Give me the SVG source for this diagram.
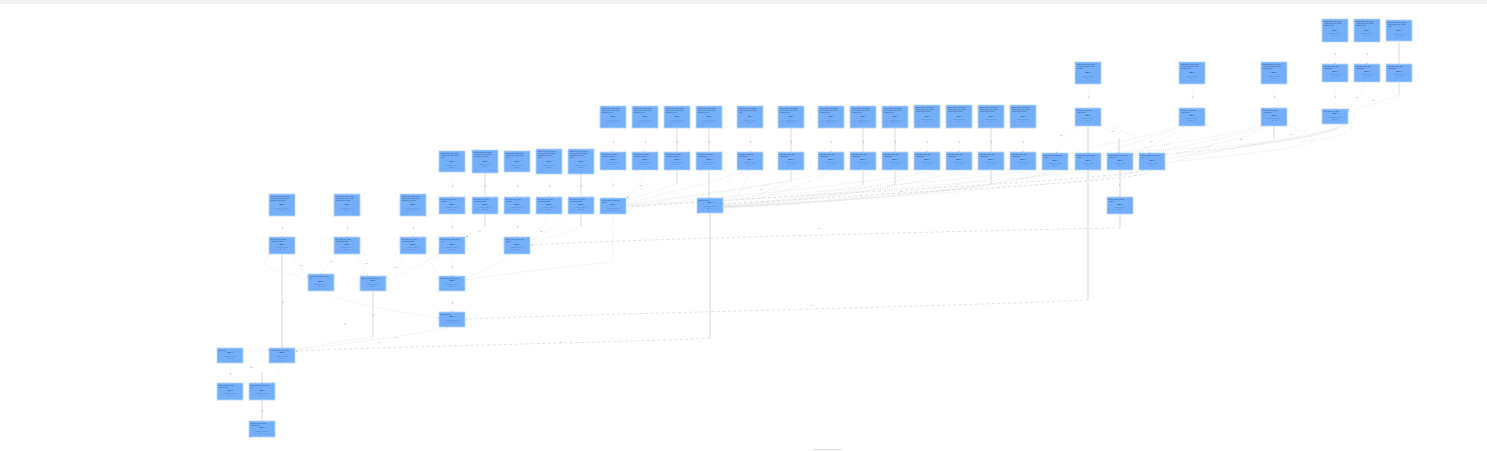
<svg xmlns="http://www.w3.org/2000/svg" width="1487" height="451" viewBox="0 0 1487 451">
<defs>
<marker id="ah" viewBox="0 0 4 4" refX="4" refY="2" markerWidth="1.5" markerHeight="1.5" markerUnits="userSpaceOnUse" orient="auto"><path d="M0,0L4,2L0,4z" fill="#777"/></marker>
<style>
.nb{fill:#74aef8;stroke:#b9d6fc;stroke-width:0.8}
.t{font-family:"Liberation Sans",Arial,sans-serif;font-size:1.5px;fill:#2d3f63}
.b{font-weight:bold;text-anchor:middle}
.l{font-family:"Liberation Sans",Arial,sans-serif;font-size:1.2px;fill:#3f6fb8;text-anchor:middle}
.lbl{font-family:"Liberation Sans",Arial,sans-serif;font-size:1.7px;fill:#9a9a9a}
.es{stroke:#d6d6d6;stroke-width:0.9;fill:none}
.ed{stroke:#cbcbcb;stroke-width:0.5;stroke-dasharray:0.8 1.5;fill:none}
.eL{stroke:#dcdcdc;stroke-width:0.8;stroke-dasharray:3 2.5;fill:none}
.ei{stroke:#f2f2f2;stroke-width:0.3;fill:none}
</style>
</defs>
<rect width="1487" height="451" fill="#ffffff"/>
<rect width="1487" height="4" fill="#f1f1f1"/>
<rect x="813" y="449" width="29" height="1" fill="#dddddd"/>

<g id="connectors">
<path class="ei" d="M1335,42V64" marker-end="url(#ah)"/>
<path class="ei" d="M1367,42V64" marker-end="url(#ah)"/>
<path class="es" d="M1399,41V64" marker-end="url(#ah)"/>
<path class="es" d="M1399,82V95"/>
<path class="ed" d="M1399,95C1385,100 1360,108 1348,112" marker-end="url(#ah)"/>
<path class="ed" d="M1365,82C1362,95 1352,106 1348,110" marker-end="url(#ah)"/>
<path class="ei" d="M1335,82V109" marker-end="url(#ah)"/>
<path class="ei" d="M1088,84V108" marker-end="url(#ah)"/>
<path class="ei" d="M1192,84V108" marker-end="url(#ah)"/>
<path class="ei" d="M1274,84V108" marker-end="url(#ah)"/>
<path class="es" d="M1088,126V153" marker-end="url(#ah)"/>
<path class="ed" d="M1078,126C1070,135 1060,145 1056,153" marker-end="url(#ah)"/>
<path class="ed" d="M1098,125C1110,131 1119,134 1119,140"/>
<path class="es" d="M1119,139V153" marker-end="url(#ah)"/>
<path class="ed" d="M1101,122C1120,130 1140,136 1150,153" marker-end="url(#ah)"/>
<path class="ed" d="M1180,125C1150,140 1080,145 1068,156"/>
<path class="ed" d="M1182,126C1150,140 1110,148 1101,156"/>
<path class="ed" d="M1186,126C1165,140 1140,150 1133,157"/>
<path class="ed" d="M1190,126C1180,140 1160,148 1152,153"/>
<path class="ed" d="M1204,124C1240,140 1200,155 1165,160"/>
<path class="ed" d="M1262,125C1220,140 1110,150 1101,158"/>
<path class="ed" d="M1265,126C1230,140 1150,150 1133,160"/>
<path class="ed" d="M1268,126C1250,140 1180,150 1165,158"/>
<path class="es" d="M1274,126V140"/>
<path class="ed" d="M1274,140C1250,148 1090,150 1068,160"/>
<path class="ed" d="M1286,124C1300,130 1310,135 1316,141C1300,150 1200,158 1165,163"/>
<path class="ed" d="M1343,124C1330,135 1200,150 1165,165"/>
<path class="ed" d="M1345,124C1340,132 1250,148 1133,162"/>
<path class="ed" d="M1347,122C1345,135 1240,150 1101,160"/>
<path class="ed" d="M1348,120C1352,137 1200,152 1068,162"/>
<path class="ed" d="M1348,118C1360,132 1340,138 1300,142"/>
<path class="ei" d="M613,128V152" marker-end="url(#ah)"/>
<path class="ei" d="M645,128V152" marker-end="url(#ah)"/>
<path class="es" d="M677,128V183"/>
<path class="es" d="M709,128V198" marker-end="url(#ah)"/>
<path class="ei" d="M750,128V152" marker-end="url(#ah)"/>
<path class="es" d="M791,128V181"/>
<path class="ei" d="M831,128V152" marker-end="url(#ah)"/>
<path class="es" d="M863,128V185"/>
<path class="es" d="M895,128V185"/>
<path class="ei" d="M927,128V152" marker-end="url(#ah)"/>
<path class="ei" d="M959,128V152" marker-end="url(#ah)"/>
<path class="es" d="M991,128V185"/>
<path class="ei" d="M1023,128V152" marker-end="url(#ah)"/>
<path class="ei" d="M613,170V198" marker-end="url(#ah)"/>
<path class="ed" d="M645,170C640,185 632,193 627,198" marker-end="url(#ah)"/>
<path class="ed" d="M677,183C660,190 640,196 627,200"/>
<path class="ed" d="M722,168C726,173 728,178 731,182"/>
<path class="ed" d="M750,170C745,190 735,200 723,204" marker-end="url(#ah)"/>
<path class="ed" d="M791,181C760,195 740,202 723,205"/>
<path class="ed" d="M831,170C800,190 750,202 723,205"/>
<path class="ed" d="M863,185C820,195 760,203 723,206"/>
<path class="ed" d="M895,185C850,195 770,203 723,206"/>
<path class="ed" d="M927,170C880,190 780,203 723,206"/>
<path class="ed" d="M959,170C900,190 790,203 723,207"/>
<path class="ed" d="M991,185C940,193 800,203 723,207"/>
<path class="ed" d="M1023,170C960,190 810,203 723,207"/>
<path class="ed" d="M1055,170C1000,190 820,204 723,207"/>
<path class="ed" d="M1062,170C1010,186 830,203 723,208"/>
<path class="ed" d="M1145,170C1100,184 850,200 723,208"/>
<path class="ed" d="M750,170C700,185 650,198 627,203"/>
<path class="ed" d="M791,181C730,190 660,200 627,204"/>
<path class="ed" d="M831,172C760,188 670,200 627,205"/>
<path class="ed" d="M927,172C820,190 680,201 627,205"/>
<path class="ed" d="M1023,172C880,188 700,201 627,206"/>
<path class="ed" d="M1101,170C950,186 720,202 627,206"/>
<path class="eL" d="M1152,170C1140,182 1000,186 723,204"/>
<path class="eL" d="M1165,165C1140,180 900,188 627,207"/>
<path class="es" d="M1120,170V197" marker-end="url(#ah)"/>
<path class="es" d="M1120,214V228"/>
<path class="eL" d="M1120,228C1000,230 600,240 531,245" marker-end="url(#ah)"/>
<path class="es" d="M1088,170V300"/>
<path class="eL" d="M1088,300C1000,305 560,315 466,319" marker-end="url(#ah)"/>
<path class="es" d="M710,213V338"/>
<path class="eL" d="M710,338C650,342 400,346 296,351" marker-end="url(#ah)"/>
<path class="ei" d="M452,172V197" marker-end="url(#ah)"/>
<path class="es" d="M485,173V226"/>
<path class="ed" d="M485,226C478,230 470,234 466,237" marker-end="url(#ah)"/>
<path class="ei" d="M517,172V197" marker-end="url(#ah)"/>
<path class="ei" d="M549,174V197" marker-end="url(#ah)"/>
<path class="es" d="M581,174V226"/>
<path class="ed" d="M581,226C560,235 540,240 531,243"/>
<path class="ei" d="M452,214V237" marker-end="url(#ah)"/>
<path class="ei" d="M517,214V237" marker-end="url(#ah)"/>
<path class="ed" d="M547,214C545,225 535,233 530,238"/>
<path class="ed" d="M565,214C560,225 540,235 531,240"/>
<path class="ed" d="M613,214C612,240 613,255 613,262C560,268 490,275 466,280" marker-end="url(#ah)"/>
<path class="ed" d="M510,254C500,265 480,272 466,277"/>
<path class="ei" d="M452,254V276" marker-end="url(#ah)"/>
<path class="ei" d="M452,291V312" marker-end="url(#ah)"/>
<path class="ed" d="M450,327C400,338 330,345 296,350"/>
<path class="ei" d="M282,216V237" marker-end="url(#ah)"/>
<path class="ei" d="M347,216V237" marker-end="url(#ah)"/>
<path class="ei" d="M413,216V237" marker-end="url(#ah)"/>
<path class="es" d="M282,254V348" marker-end="url(#ah)"/>
<path class="ed" d="M292,254C298,265 303,272 308,278" marker-end="url(#ah)"/>
<path class="ed" d="M270,254C262,262 262,266 275,270C290,273 300,276 308,281"/>
<path class="ed" d="M338,254C332,262 325,268 321,274" marker-end="url(#ah)"/>
<path class="ed" d="M355,254C362,262 366,270 368,276" marker-end="url(#ah)"/>
<path class="ed" d="M405,254C398,265 390,272 386,278" marker-end="url(#ah)"/>
<path class="ed" d="M423,254C430,262 435,268 439,278" marker-end="url(#ah)"/>
<path class="ed" d="M440,254C420,265 400,275 386,281"/>
<path class="es" d="M373,291V337"/>
<path class="ed" d="M373,337C350,340 320,345 296,349"/>
<path class="ed" d="M321,291C340,302 400,312 439,318" marker-end="url(#ah)"/>
<path class="ed" d="M282,363C280,372 275,378 272,383" marker-end="url(#ah)"/>
<path class="ed" d="M243,362C250,366 258,370 262,373"/>
<path class="es" d="M262,372V383" marker-end="url(#ah)"/>
<path class="ei" d="M230,363V383" marker-end="url(#ah)"/>
<path class="ed" d="M243,354C250,352 260,350 269,350" marker-end="url(#ah)"/>
<path class="es" d="M262,400V421" marker-end="url(#ah)"/>
<g class="lbl">
<text transform="translate(1336,55) rotate(-90)">link</text>
<text transform="translate(1368,55) rotate(-90)">link</text>
<text transform="translate(1336,98) rotate(-90)">link</text>
<text transform="translate(1089,98) rotate(-90)">link</text>
<text transform="translate(1193,98) rotate(-90)">link</text>
<text transform="translate(1275,98) rotate(-90)">link</text>
<text transform="translate(1120,186) rotate(-90)">link</text>
<text transform="translate(614,143) rotate(-90)">link</text>
<text transform="translate(646,143) rotate(-90)">link</text>
<text transform="translate(678,143) rotate(-90)">link</text>
<text transform="translate(710,143) rotate(-90)">link</text>
<text transform="translate(751,143) rotate(-90)">link</text>
<text transform="translate(792,143) rotate(-90)">link</text>
<text transform="translate(832,143) rotate(-90)">link</text>
<text transform="translate(864,143) rotate(-90)">link</text>
<text transform="translate(896,143) rotate(-90)">link</text>
<text transform="translate(928,143) rotate(-90)">link</text>
<text transform="translate(960,143) rotate(-90)">link</text>
<text transform="translate(992,143) rotate(-90)">link</text>
<text transform="translate(1024,143) rotate(-90)">link</text>
<text transform="translate(614,186) rotate(-90)">link</text>
<text transform="translate(453,187) rotate(-90)">link</text>
<text transform="translate(486,187) rotate(-90)">link</text>
<text transform="translate(518,187) rotate(-90)">link</text>
<text transform="translate(550,187) rotate(-90)">link</text>
<text transform="translate(582,187) rotate(-90)">link</text>
<text transform="translate(453,228) rotate(-90)">link</text>
<text transform="translate(518,228) rotate(-90)">link</text>
<text transform="translate(453,268) rotate(-90)">link</text>
<text transform="translate(453,304) rotate(-90)">link</text>
<text transform="translate(283,229) rotate(-90)">link</text>
<text transform="translate(348,229) rotate(-90)">link</text>
<text transform="translate(414,229) rotate(-90)">link</text>
<text transform="translate(283,303) rotate(-90)">link</text>
<text transform="translate(374,316) rotate(-90)">link</text>
<text transform="translate(346,325) rotate(-90)">link</text>
<text transform="translate(231,375) rotate(-90)">link</text>
<text transform="translate(263,412) rotate(-90)">link</text>
<text x="810" y="306">link</text>
<text x="560" y="343">link</text>
<text x="818" y="229">link</text>
<text x="1356" y="98">link</text>
<text x="1372" y="101">link</text>
<text x="1060" y="136">link</text>
<text x="1112" y="132">link</text>
<text x="1150" y="142">link</text>
<text x="1240" y="140">link</text>
<text x="1290" y="135">link</text>
<text x="640" y="186">link</text>
<text x="900" y="192">link</text>
<text x="760" y="190">link</text>
<text x="330" y="262">link</text>
<text x="365" y="264">link</text>
<text x="300" y="266">link</text>
<text x="395" y="268">link</text>
<text x="395" y="338">link</text>
<text x="378" y="343">link</text>
<text x="540" y="232">link</text>
<text x="478" y="232">link</text>
<text x="250" y="368">link</text>
</g>
</g>

<g id="n01" transform="translate(1322,19)"><rect class="nb" width="26" height="23"/><text class="t"><tspan x="1.6" y="3.4">pipeline.stage_task_runner_</tspan><tspan x="1.6" y="5.3">_process_job_input_config</tspan><tspan x="1.6" y="7.2">["default"]_step</tspan></text><text class="t b" x="13" y="11.6">Task: 1</text><text class="l"><tspan x="13" y="15.3">queued 0.0s · run 0.0s</tspan><tspan x="13" y="17.3">retry 0 · ok</tspan></text></g>
<g id="n02" transform="translate(1354,19)"><rect class="nb" width="26" height="23"/><text class="t"><tspan x="1.6" y="3.4">pipeline.stage_task_runner_</tspan><tspan x="1.6" y="5.3">_process_job_input_config</tspan><tspan x="1.6" y="7.2">["default"]_step</tspan></text><text class="t b" x="13" y="11.6">Task: 1</text><text class="l"><tspan x="13" y="15.3">queued 0.0s · run 0.0s</tspan><tspan x="13" y="17.3">retry 0 · ok</tspan></text></g>
<g id="n03" transform="translate(1386,20)"><rect class="nb" width="26" height="21"/><text class="t"><tspan x="1.6" y="3.4">pipeline.stage_task_runner_</tspan><tspan x="1.6" y="5.3">_process_job_input_config</tspan><tspan x="1.6" y="7.2">_step</tspan></text><text class="t b" x="13" y="10.8">Task: 1</text><text class="l"><tspan x="13" y="14.5">queued 0.0s · run 0.0s</tspan><tspan x="13" y="16.5">retry 0 · ok</tspan></text></g>

<g id="n04" transform="translate(1075,62)"><rect class="nb" width="26" height="22"/><text class="t"><tspan x="1.6" y="3.4">pipeline.stage_task_runner_</tspan><tspan x="1.6" y="5.3">_process_job_input_config</tspan><tspan x="1.6" y="7.2">["default"]</tspan></text><text class="t b" x="13" y="11.2">Task: 1</text><text class="l"><tspan x="13" y="15">queued 0.0s · run 0.0s</tspan><tspan x="13" y="17">retry 0 · ok</tspan></text></g>
<g id="n05" transform="translate(1179,62)"><rect class="nb" width="26" height="22"/><text class="t"><tspan x="1.6" y="3.4">pipeline.stage_task_runner_</tspan><tspan x="1.6" y="5.3">_process_job_input_config</tspan><tspan x="1.6" y="7.2">["default"]_step</tspan></text><text class="t b" x="13" y="11.2">Task: 1</text><text class="l"><tspan x="13" y="15">queued 0.0s · run 0.0s</tspan><tspan x="13" y="17">retry 0 · ok</tspan></text></g>
<g id="n06" transform="translate(1261,62)"><rect class="nb" width="26" height="22"/><text class="t"><tspan x="1.6" y="3.4">pipeline.stage_task_runner_</tspan><tspan x="1.6" y="5.3">_process_job_input_config</tspan><tspan x="1.6" y="7.2">["default"]_step</tspan></text><text class="t b" x="13" y="11.2">Task: 1</text><text class="l"><tspan x="13" y="15">queued 0.0s · run 0.0s</tspan><tspan x="13" y="17">retry 0 · ok</tspan></text></g>
<g id="n07" transform="translate(1322,64)"><rect class="nb" width="26" height="18"/><text class="t"><tspan x="1.6" y="3.2">task_runner_job_stage_</tspan><tspan x="1.6" y="5.1">_process["a"]</tspan></text><text class="t b" x="13" y="7.6">Task: 1</text><text class="l"><tspan x="13" y="11.2">queued 0.0s · run 0.0s</tspan><tspan x="13" y="13.2">retry 0 · ok</tspan></text></g>
<g id="n08" transform="translate(1354,64)"><rect class="nb" width="26" height="18"/><text class="t"><tspan x="1.6" y="3.2">task_runner_job_stage_</tspan><tspan x="1.6" y="5.1">_process["a"]</tspan></text><text class="t b" x="13" y="7.6">Task: 1</text><text class="l"><tspan x="13" y="11.2">queued 0.0s · run 0.0s</tspan><tspan x="13" y="13.2">retry 0 · ok</tspan></text></g>
<g id="n09" transform="translate(1386,64)"><rect class="nb" width="26" height="18"/><text class="t"><tspan x="1.6" y="3.2">task_runner_job_stage_</tspan><tspan x="1.6" y="5.1">_process["a"]</tspan></text><text class="t b" x="13" y="7.6">Task: 1</text><text class="l"><tspan x="13" y="11.2">queued 0.0s · run 0.0s</tspan><tspan x="13" y="13.2">retry 0 · ok</tspan></text></g>

<g id="n10" transform="translate(600,106)"><rect class="nb" width="26" height="22"/><text class="t"><tspan x="1.6" y="3.4">pipeline.stage_task_runner_</tspan><tspan x="1.6" y="5.3">_process_job_input_config</tspan><tspan x="1.6" y="7.2">["default"]_step</tspan></text><text class="t b" x="13" y="11.2">Task: 1</text><text class="l"><tspan x="13" y="15">queued 0.0s · run 0.0s</tspan><tspan x="13" y="17">retry 0 · ok</tspan></text></g>
<g id="n11" transform="translate(632,106)"><rect class="nb" width="26" height="22"/><text class="t"><tspan x="1.6" y="3.4">pipeline.stage_task_runner_</tspan><tspan x="1.6" y="5.3">_process_job_input_config</tspan><tspan x="1.6" y="7.2">["default"]_step</tspan></text><text class="t b" x="13" y="11.2">Task: 1</text><text class="l"><tspan x="13" y="15">queued 0.0s · run 0.0s</tspan><tspan x="13" y="17">retry 0 · ok</tspan></text></g>
<g id="n12" transform="translate(664,106)"><rect class="nb" width="26" height="22"/><text class="t"><tspan x="1.6" y="3.4">pipeline.stage_task_runner_</tspan><tspan x="1.6" y="5.3">_process_job_input_config</tspan><tspan x="1.6" y="7.2">["default"]_step</tspan></text><text class="t b" x="13" y="11.2">Task: 1</text><text class="l"><tspan x="13" y="15">queued 0.0s · run 0.0s</tspan><tspan x="13" y="17">retry 0 · ok</tspan></text></g>
<g id="n13" transform="translate(696,106)"><rect class="nb" width="26" height="22"/><text class="t"><tspan x="1.6" y="3.4">pipeline.stage_task_runner_</tspan><tspan x="1.6" y="5.3">_process_job_input_config</tspan><tspan x="1.6" y="7.2">["default"]_step</tspan></text><text class="t b" x="13" y="11.2">Task: 1</text><text class="l"><tspan x="13" y="15">queued 0.0s · run 0.0s</tspan><tspan x="13" y="17">retry 0 · ok</tspan></text></g>
<g id="n14" transform="translate(737,106)"><rect class="nb" width="26" height="22"/><text class="t"><tspan x="1.6" y="3.4">pipeline.stage_task_runner_</tspan><tspan x="1.6" y="5.3">_process_job_input_config</tspan><tspan x="1.6" y="7.2">_step</tspan></text><text class="t b" x="13" y="11.2">Task: 1</text><text class="l"><tspan x="13" y="15">queued 0.0s · run 0.0s</tspan><tspan x="13" y="17">retry 0 · ok</tspan></text></g>
<g id="n15" transform="translate(778,106)"><rect class="nb" width="26" height="22"/><text class="t"><tspan x="1.6" y="3.4">pipeline.stage_task_runner_</tspan><tspan x="1.6" y="5.3">_process_job_input_config</tspan><tspan x="1.6" y="7.2">["default"]_step</tspan></text><text class="t b" x="13" y="11.2">Task: 1</text><text class="l"><tspan x="13" y="15">queued 0.0s · run 0.0s</tspan><tspan x="13" y="17">retry 0 · ok</tspan></text></g>
<g id="n16" transform="translate(818,106)"><rect class="nb" width="26" height="22"/><text class="t"><tspan x="1.6" y="3.4">pipeline.stage_task_runner_</tspan><tspan x="1.6" y="5.3">_process_job_input_config</tspan><tspan x="1.6" y="7.2">["default"]_step</tspan></text><text class="t b" x="13" y="11.2">Task: 1</text><text class="l"><tspan x="13" y="15">queued 0.0s · run 0.0s</tspan><tspan x="13" y="17">retry 0 · ok</tspan></text></g>
<g id="n17" transform="translate(850,106)"><rect class="nb" width="26" height="22"/><text class="t"><tspan x="1.6" y="3.4">pipeline.stage_task_runner_</tspan><tspan x="1.6" y="5.3">_process_job_input_config</tspan><tspan x="1.6" y="7.2">["default"]_step</tspan></text><text class="t b" x="13" y="11.2">Task: 1</text><text class="l"><tspan x="13" y="15">queued 0.0s · run 0.0s</tspan><tspan x="13" y="17">retry 0 · ok</tspan></text></g>
<g id="n18" transform="translate(882,106)"><rect class="nb" width="26" height="22"/><text class="t"><tspan x="1.6" y="3.4">pipeline.stage_task_runner_</tspan><tspan x="1.6" y="5.3">_process_job_input_config</tspan><tspan x="1.6" y="7.2">["default"]_step</tspan></text><text class="t b" x="13" y="11.2">Task: 1</text><text class="l"><tspan x="13" y="15">queued 0.0s · run 0.0s</tspan><tspan x="13" y="17">retry 0 · ok</tspan></text></g>
<g id="n19" transform="translate(914,105)"><rect class="nb" width="26" height="23"/><text class="t"><tspan x="1.6" y="3.4">pipeline.stage_task_runner_</tspan><tspan x="1.6" y="5.3">_process_job_input_config</tspan><tspan x="1.6" y="7.2">["default"]_step_group</tspan></text><text class="t b" x="13" y="11.6">Task: 1</text><text class="l"><tspan x="13" y="15.3">queued 0.0s · run 0.0s</tspan><tspan x="13" y="17.3">retry 0 · ok</tspan></text></g>
<g id="n20" transform="translate(946,105)"><rect class="nb" width="26" height="23"/><text class="t"><tspan x="1.6" y="3.4">pipeline.stage_task_runner_</tspan><tspan x="1.6" y="5.3">_process_job_input_config</tspan><tspan x="1.6" y="7.2">["default"]_step_group</tspan></text><text class="t b" x="13" y="11.6">Task: 1</text><text class="l"><tspan x="13" y="15.3">queued 0.0s · run 0.0s</tspan><tspan x="13" y="17.3">retry 0 · ok</tspan></text></g>
<g id="n21" transform="translate(978,105)"><rect class="nb" width="26" height="23"/><text class="t"><tspan x="1.6" y="3.4">pipeline.stage_task_runner_</tspan><tspan x="1.6" y="5.3">_process_job_input_config</tspan><tspan x="1.6" y="7.2">["default"]_step_group</tspan></text><text class="t b" x="13" y="11.6">Task: 1</text><text class="l"><tspan x="13" y="15.3">queued 0.0s · run 0.0s</tspan><tspan x="13" y="17.3">retry 0 · ok</tspan></text></g>
<g id="n22" transform="translate(1010,105)"><rect class="nb" width="26" height="23"/><text class="t"><tspan x="1.6" y="3.4">pipeline.stage_task_runner_</tspan><tspan x="1.6" y="5.3">_process_job_input_config</tspan><tspan x="1.6" y="7.2">["default"]_step_group</tspan></text><text class="t b" x="13" y="11.6">Task: 1</text><text class="l"><tspan x="13" y="15.3">queued 0.0s · run 0.0s</tspan><tspan x="13" y="17.3">retry 0 · ok</tspan></text></g>
<g id="n23" transform="translate(1075,108)"><rect class="nb" width="26" height="18"/><text class="t"><tspan x="1.6" y="3.2">task_runner_job_stage_</tspan><tspan x="1.6" y="5.1">_process["a"]</tspan></text><text class="t b" x="13" y="7.6">Task: 1</text><text class="l"><tspan x="13" y="11.2">queued 0.0s · run 0.0s</tspan><tspan x="13" y="13.2">retry 0 · ok</tspan></text></g>
<g id="n24" transform="translate(1179,108)"><rect class="nb" width="26" height="18"/><text class="t"><tspan x="1.6" y="3.2">task_runner_job_stage_</tspan><tspan x="1.6" y="5.1">_process["a"]</tspan></text><text class="t b" x="13" y="7.6">Task: 1</text><text class="l"><tspan x="13" y="11.2">queued 0.0s · run 0.0s</tspan><tspan x="13" y="13.2">retry 0 · ok</tspan></text></g>
<g id="n25" transform="translate(1261,108)"><rect class="nb" width="26" height="18"/><text class="t"><tspan x="1.6" y="3.2">task_runner_job_stage_</tspan><tspan x="1.6" y="5.1">_process["a"]</tspan></text><text class="t b" x="13" y="7.6">Task: 1</text><text class="l"><tspan x="13" y="11.2">queued 0.0s · run 0.0s</tspan><tspan x="13" y="13.2">retry 0 · ok</tspan></text></g>
<g id="n26" transform="translate(1322,109)"><rect class="nb" width="26" height="15"/><text class="t"><tspan x="1.6" y="3">job_process_run_stage</tspan></text><text class="t b" x="13" y="5">Task: 1</text><text class="l"><tspan x="13" y="8.6">queued 0.0s · run 0.0s</tspan><tspan x="13" y="10.6">retry 0 · ok</tspan></text></g>

<g id="n27" transform="translate(439,151)"><rect class="nb" width="26" height="21"/><text class="t"><tspan x="1.6" y="3.4">pipeline.stage_task_runner_</tspan><tspan x="1.6" y="5.3">_process_job_input_config</tspan><tspan x="1.6" y="7.2">_step</tspan></text><text class="t b" x="13" y="10.8">Task: 1</text><text class="l"><tspan x="13" y="14.5">queued 0.0s · run 0.0s</tspan><tspan x="13" y="16.5">retry 0 · ok</tspan></text></g>
<g id="n28" transform="translate(472,150)"><rect class="nb" width="26" height="23"/><text class="t"><tspan x="1.6" y="3.4">pipeline.stage_task_runner_</tspan><tspan x="1.6" y="5.3">_process_job_input_config</tspan><tspan x="1.6" y="7.2">["default"]_step_group</tspan></text><text class="t b" x="13" y="11.6">Task: 1</text><text class="l"><tspan x="13" y="15.3">queued 0.0s · run 0.0s</tspan><tspan x="13" y="17.3">retry 0 · ok</tspan></text></g>
<g id="n29" transform="translate(504,151)"><rect class="nb" width="26" height="21"/><text class="t"><tspan x="1.6" y="3.4">pipeline.stage_task_runner_</tspan><tspan x="1.6" y="5.3">_process_job_input_config</tspan><tspan x="1.6" y="7.2">_step</tspan></text><text class="t b" x="13" y="10.8">Task: 1</text><text class="l"><tspan x="13" y="14.5">queued 0.0s · run 0.0s</tspan><tspan x="13" y="16.5">retry 0 · ok</tspan></text></g>
<g id="n30" transform="translate(536,149)"><rect class="nb" width="26" height="25"/><text class="t"><tspan x="1.6" y="3.4">pipeline.stage_task_runner_</tspan><tspan x="1.6" y="5.3">_process_job_input_config</tspan><tspan x="1.6" y="7.2">["default"]_step_group_</tspan><tspan x="1.6" y="9.1">_main</tspan></text><text class="t b" x="13" y="13.2">Task: 1</text><text class="l"><tspan x="13" y="17">queued 0.0s · run 0.0s</tspan><tspan x="13" y="19">retry 0 · ok</tspan></text></g>
<g id="n31" transform="translate(568,149)"><rect class="nb" width="26" height="25"/><text class="t"><tspan x="1.6" y="3.4">pipeline.stage_task_runner_</tspan><tspan x="1.6" y="5.3">_process_job_input_config</tspan><tspan x="1.6" y="7.2">["default"]_step_group_</tspan><tspan x="1.6" y="9.1">_main</tspan></text><text class="t b" x="13" y="13.2">Task: 1</text><text class="l"><tspan x="13" y="17">queued 0.0s · run 0.0s</tspan><tspan x="13" y="19">retry 0 · ok</tspan></text></g>

<g id="n32" transform="translate(600,152)"><rect class="nb" width="26" height="18"/><text class="t"><tspan x="1.6" y="3.2">task_runner_job_stage_</tspan><tspan x="1.6" y="5.1">_process["a"]_input</tspan></text><text class="t b" x="13" y="7.6">Task: 1</text><text class="l"><tspan x="13" y="11.2">queued 0.0s · run 0.0s</tspan><tspan x="13" y="13.2">retry 0 · ok</tspan></text></g>
<g id="n33" transform="translate(632,152)"><rect class="nb" width="26" height="18"/><text class="t"><tspan x="1.6" y="3.2">task_runner_job_stage_</tspan><tspan x="1.6" y="5.1">_process["a"]_input</tspan></text><text class="t b" x="13" y="7.6">Task: 1</text><text class="l"><tspan x="13" y="11.2">queued 0.0s · run 0.0s</tspan><tspan x="13" y="13.2">retry 0 · ok</tspan></text></g>
<g id="n34" transform="translate(664,152)"><rect class="nb" width="26" height="18"/><text class="t"><tspan x="1.6" y="3.2">task_runner_job_stage_</tspan><tspan x="1.6" y="5.1">_process["a"]_input</tspan></text><text class="t b" x="13" y="7.6">Task: 1</text><text class="l"><tspan x="13" y="11.2">queued 0.0s · run 0.0s</tspan><tspan x="13" y="13.2">retry 0 · ok</tspan></text></g>
<g id="n35" transform="translate(696,152)"><rect class="nb" width="26" height="18"/><text class="t"><tspan x="1.6" y="3.2">task_runner_job_stage_</tspan><tspan x="1.6" y="5.1">_process["a"]</tspan></text><text class="t b" x="13" y="7.6">Task: 1</text><text class="l"><tspan x="13" y="11.2">queued 0.0s · run 0.0s</tspan><tspan x="13" y="13.2">retry 0 · ok</tspan></text></g>
<g id="n36" transform="translate(737,152)"><rect class="nb" width="26" height="18"/><text class="t"><tspan x="1.6" y="3.2">task_runner_job_stage_</tspan><tspan x="1.6" y="5.1">_process["a"]</tspan></text><text class="t b" x="13" y="7.6">Task: 1</text><text class="l"><tspan x="13" y="11.2">queued 0.0s · run 0.0s</tspan><tspan x="13" y="13.2">retry 0 · ok</tspan></text></g>
<g id="n37" transform="translate(778,152)"><rect class="nb" width="26" height="18"/><text class="t"><tspan x="1.6" y="3.2">task_runner_job_stage_</tspan><tspan x="1.6" y="5.1">_process["a"]</tspan></text><text class="t b" x="13" y="7.6">Task: 1</text><text class="l"><tspan x="13" y="11.2">queued 0.0s · run 0.0s</tspan><tspan x="13" y="13.2">retry 0 · ok</tspan></text></g>
<g id="n38" transform="translate(818,152)"><rect class="nb" width="26" height="18"/><text class="t"><tspan x="1.6" y="3.2">task_runner_job_stage_</tspan><tspan x="1.6" y="5.1">_process["a"]</tspan></text><text class="t b" x="13" y="7.6">Task: 1</text><text class="l"><tspan x="13" y="11.2">queued 0.0s · run 0.0s</tspan><tspan x="13" y="13.2">retry 0 · ok</tspan></text></g>
<g id="n39" transform="translate(850,152)"><rect class="nb" width="26" height="18"/><text class="t"><tspan x="1.6" y="3.2">task_runner_job_stage_</tspan><tspan x="1.6" y="5.1">_process["a"]</tspan></text><text class="t b" x="13" y="7.6">Task: 1</text><text class="l"><tspan x="13" y="11.2">queued 0.0s · run 0.0s</tspan><tspan x="13" y="13.2">retry 0 · ok</tspan></text></g>
<g id="n40" transform="translate(882,152)"><rect class="nb" width="26" height="18"/><text class="t"><tspan x="1.6" y="3.2">task_runner_job_stage_</tspan><tspan x="1.6" y="5.1">_process["a"]</tspan></text><text class="t b" x="13" y="7.6">Task: 1</text><text class="l"><tspan x="13" y="11.2">queued 0.0s · run 0.0s</tspan><tspan x="13" y="13.2">retry 0 · ok</tspan></text></g>
<g id="n41" transform="translate(914,152)"><rect class="nb" width="26" height="18"/><text class="t"><tspan x="1.6" y="3.2">task_runner_job_stage_</tspan><tspan x="1.6" y="5.1">_process["a"]</tspan></text><text class="t b" x="13" y="7.6">Task: 1</text><text class="l"><tspan x="13" y="11.2">queued 0.0s · run 0.0s</tspan><tspan x="13" y="13.2">retry 0 · ok</tspan></text></g>
<g id="n42" transform="translate(946,152)"><rect class="nb" width="26" height="18"/><text class="t"><tspan x="1.6" y="3.2">task_runner_job_stage_</tspan><tspan x="1.6" y="5.1">_process["a"]</tspan></text><text class="t b" x="13" y="7.6">Task: 1</text><text class="l"><tspan x="13" y="11.2">queued 0.0s · run 0.0s</tspan><tspan x="13" y="13.2">retry 0 · ok</tspan></text></g>
<g id="n43" transform="translate(978,152)"><rect class="nb" width="26" height="18"/><text class="t"><tspan x="1.6" y="3.2">task_runner_job_stage_</tspan><tspan x="1.6" y="5.1">_process["a"]</tspan></text><text class="t b" x="13" y="7.6">Task: 1</text><text class="l"><tspan x="13" y="11.2">queued 0.0s · run 0.0s</tspan><tspan x="13" y="13.2">retry 0 · ok</tspan></text></g>
<g id="n44" transform="translate(1010,152)"><rect class="nb" width="26" height="18"/><text class="t"><tspan x="1.6" y="3.2">task_runner_job_stage_</tspan><tspan x="1.6" y="5.1">_process["a"]</tspan></text><text class="t b" x="13" y="7.6">Task: 1</text><text class="l"><tspan x="13" y="11.2">queued 0.0s · run 0.0s</tspan><tspan x="13" y="13.2">retry 0 · ok</tspan></text></g>
<g id="n45" transform="translate(1042,153)"><rect class="nb" width="26" height="17"/><text class="t"><tspan x="1.6" y="3.2">pipeline_stage_collect_task_</tspan><tspan x="1.6" y="5.1">_name</tspan></text><text class="t b" x="13" y="7.6">Task: 1</text><text class="l"><tspan x="13" y="11">queued 0.0s · run 0.0s</tspan><tspan x="13" y="13">retry 0 · ok</tspan></text></g>
<g id="n46" transform="translate(1075,153)"><rect class="nb" width="26" height="17"/><text class="t"><tspan x="1.6" y="3.2">pipeline_stage_collect_task_</tspan><tspan x="1.6" y="5.1">_name</tspan></text><text class="t b" x="13" y="7.6">Task: 1</text><text class="l"><tspan x="13" y="11">queued 0.0s · run 0.0s</tspan><tspan x="13" y="13">retry 0 · ok</tspan></text></g>
<g id="n47" transform="translate(1107,153)"><rect class="nb" width="26" height="17"/><text class="t"><tspan x="1.6" y="3.2">pipeline_stage_collect_task_</tspan><tspan x="1.6" y="5.1">_name_all</tspan></text><text class="t b" x="13" y="7.6">Task: 1</text><text class="l"><tspan x="13" y="11">queued 0.0s · run 0.0s</tspan><tspan x="13" y="13">retry 0 · ok</tspan></text></g>
<g id="n48" transform="translate(1139,153)"><rect class="nb" width="26" height="17"/><text class="t"><tspan x="1.6" y="3.2">pipeline_stage_collect_task_</tspan><tspan x="1.6" y="5.1">_id</tspan></text><text class="t b" x="13" y="7.6">Task: 1</text><text class="l"><tspan x="13" y="11">queued 0.0s · run 0.0s</tspan><tspan x="13" y="13">retry 0 · ok</tspan></text></g>

<g id="n49" transform="translate(269,194)"><rect class="nb" width="26" height="22"/><text class="t"><tspan x="1.6" y="3.4">pipeline.stage_task_runner_</tspan><tspan x="1.6" y="5.3">_process_job_input_config</tspan><tspan x="1.6" y="7.2">["default"]_step_group</tspan></text><text class="t b" x="13" y="11.2">Task: 1</text><text class="l"><tspan x="13" y="15">queued 0.0s · run 0.0s</tspan><tspan x="13" y="17">retry 0 · ok</tspan></text></g>
<g id="n50" transform="translate(334,194)"><rect class="nb" width="26" height="22"/><text class="t"><tspan x="1.6" y="3.4">pipeline.stage_task_runner_</tspan><tspan x="1.6" y="5.3">_process_job_input_config</tspan><tspan x="1.6" y="7.2">["default"]_step_group</tspan></text><text class="t b" x="13" y="11.2">Task: 1</text><text class="l"><tspan x="13" y="15">queued 0.0s · run 0.0s</tspan><tspan x="13" y="17">retry 0 · ok</tspan></text></g>
<g id="n51" transform="translate(400,194)"><rect class="nb" width="26" height="22"/><text class="t"><tspan x="1.6" y="3.4">pipeline.stage_task_runner_</tspan><tspan x="1.6" y="5.3">_process_job_input_config</tspan><tspan x="1.6" y="7.2">["default"]_step_group</tspan></text><text class="t b" x="13" y="11.2">Task: 1</text><text class="l"><tspan x="13" y="15">queued 0.0s · run 0.0s</tspan><tspan x="13" y="17">retry 0 · ok</tspan></text></g>
<g id="n52" transform="translate(439,197)"><rect class="nb" width="26" height="17"/><text class="t"><tspan x="1.6" y="3.2">task_runner_job_stage_</tspan><tspan x="1.6" y="5.1">_process</tspan></text><text class="t b" x="13" y="7.6">Task: 1</text><text class="l"><tspan x="13" y="11">queued 0.0s · run 0.0s</tspan><tspan x="13" y="13">retry 0 · ok</tspan></text></g>
<g id="n53" transform="translate(472,197)"><rect class="nb" width="26" height="17"/><text class="t"><tspan x="1.6" y="3.2">task_runner_job_stage_</tspan><tspan x="1.6" y="5.1">_process["a"]_input</tspan></text><text class="t b" x="13" y="7.6">Task: 1</text><text class="l"><tspan x="13" y="11">queued 0.0s · run 0.0s</tspan><tspan x="13" y="13">retry 0 · ok</tspan></text></g>
<g id="n54" transform="translate(504,197)"><rect class="nb" width="26" height="17"/><text class="t"><tspan x="1.6" y="3.2">task_runner_job_stage_</tspan><tspan x="1.6" y="5.1">_process</tspan></text><text class="t b" x="13" y="7.6">Task: 1</text><text class="l"><tspan x="13" y="11">queued 0.0s · run 0.0s</tspan><tspan x="13" y="13">retry 0 · ok</tspan></text></g>
<g id="n55" transform="translate(536,197)"><rect class="nb" width="26" height="17"/><text class="t"><tspan x="1.6" y="3.2">task_runner_job_stage_</tspan><tspan x="1.6" y="5.1">_process["a"]_input</tspan></text><text class="t b" x="13" y="7.6">Task: 1</text><text class="l"><tspan x="13" y="11">queued 0.0s · run 0.0s</tspan><tspan x="13" y="13">retry 0 · ok</tspan></text></g>
<g id="n56" transform="translate(568,197)"><rect class="nb" width="26" height="17"/><text class="t"><tspan x="1.6" y="3.2">task_runner_job_stage_</tspan><tspan x="1.6" y="5.1">_process["a"]_input</tspan></text><text class="t b" x="13" y="7.6">Task: 1</text><text class="l"><tspan x="13" y="11">queued 0.0s · run 0.0s</tspan><tspan x="13" y="13">retry 0 · ok</tspan></text></g>
<g id="n57" transform="translate(600,198)"><rect class="nb" width="26" height="16"/><text class="t"><tspan x="1.6" y="3.2">pipeline_stage_collect_task_</tspan><tspan x="1.6" y="5.1">_name</tspan></text><text class="t b" x="13" y="7.4">Task: 1</text><text class="l"><tspan x="13" y="10.6">queued 0.0s · run 0.0s</tspan><tspan x="13" y="12.6">retry 0 · ok</tspan></text></g>
<g id="n58" transform="translate(697,198)"><rect class="nb" width="26" height="15"/><text class="t"><tspan x="1.6" y="3">pipeline_collect</tspan></text><text class="t b" x="13" y="5">Task: 1</text><text class="l"><tspan x="13" y="8.6">queued 0.0s · run 0.0s</tspan><tspan x="13" y="10.6">retry 0 · ok</tspan></text></g>
<g id="n59" transform="translate(1107,197)"><rect class="nb" width="26" height="17"/><text class="t"><tspan x="1.6" y="3.2">pipeline_stage_finalize_</tspan><tspan x="1.6" y="5.1">_result</tspan></text><text class="t b" x="13" y="7.6">Task: 1</text><text class="l"><tspan x="13" y="11">queued 0.0s · run 0.0s</tspan><tspan x="13" y="13">retry 0 · ok</tspan></text></g>

<g id="n60" transform="translate(269,237)"><rect class="nb" width="26" height="17"/><text class="t"><tspan x="1.6" y="3.2">task_runner_job_stage_</tspan><tspan x="1.6" y="5.1">_process["a"]_input</tspan></text><text class="t b" x="13" y="7.6">Task: 1</text><text class="l"><tspan x="13" y="11">queued 0.0s · run 0.0s</tspan><tspan x="13" y="13">retry 0 · ok</tspan></text></g>
<g id="n61" transform="translate(334,237)"><rect class="nb" width="26" height="17"/><text class="t"><tspan x="1.6" y="3.2">task_runner_job_stage_</tspan><tspan x="1.6" y="5.1">_process["a"]_input</tspan></text><text class="t b" x="13" y="7.6">Task: 1</text><text class="l"><tspan x="13" y="11">queued 0.0s · run 0.0s</tspan><tspan x="13" y="13">retry 0 · ok</tspan></text></g>
<g id="n62" transform="translate(400,237)"><rect class="nb" width="26" height="17"/><text class="t"><tspan x="1.6" y="3.2">task_runner_job_stage_</tspan><tspan x="1.6" y="5.1">_process["a"]_input</tspan></text><text class="t b" x="13" y="7.6">Task: 1</text><text class="l"><tspan x="13" y="11">queued 0.0s · run 0.0s</tspan><tspan x="13" y="13">retry 0 · ok</tspan></text></g>
<g id="n63" transform="translate(439,237)"><rect class="nb" width="26" height="17"/><text class="t"><tspan x="1.6" y="3.2">pipeline_stage_collect_task_</tspan><tspan x="1.6" y="5.1">_all</tspan></text><text class="t b" x="13" y="7.6">Task: 1</text><text class="l"><tspan x="13" y="11">queued 0.0s · run 0.0s</tspan><tspan x="13" y="13">retry 0 · ok</tspan></text></g>
<g id="n64" transform="translate(504,237)"><rect class="nb" width="26" height="17"/><text class="t"><tspan x="1.6" y="3.2">pipeline_stage_collect_task_</tspan><tspan x="1.6" y="5.1">_name</tspan></text><text class="t b" x="13" y="7.6">Task: 1</text><text class="l"><tspan x="13" y="11">queued 0.0s · run 0.0s</tspan><tspan x="13" y="13">retry 0 · ok</tspan></text></g>

<g id="n65" transform="translate(308,274)"><rect class="nb" width="26" height="17"/><text class="t"><tspan x="1.6" y="3.2">pipeline_stage_collect_task_</tspan><tspan x="1.6" y="5.1">_all</tspan></text><text class="t b" x="13" y="7.6">Task: 1</text><text class="l"><tspan x="13" y="11">queued 0.0s · run 0.0s</tspan><tspan x="13" y="13">retry 0 · ok</tspan></text></g>
<g id="n66" transform="translate(360,276)"><rect class="nb" width="26" height="15"/><text class="t"><tspan x="1.6" y="3">pipeline_stage_collect_task</tspan></text><text class="t b" x="13" y="5">Task: 1</text><text class="l"><tspan x="13" y="8.6">queued 0.0s · run 0.0s</tspan><tspan x="13" y="10.6">retry 0 · ok</tspan></text></g>
<g id="n67" transform="translate(439,276)"><rect class="nb" width="26" height="15"/><text class="t"><tspan x="1.6" y="3">pipeline_stage_merge_task</tspan></text><text class="t b" x="13" y="5">Task: 1</text><text class="l"><tspan x="13" y="8.6">queued 0.0s · run 0.0s</tspan><tspan x="13" y="10.6">retry 0 · ok</tspan></text></g>
<g id="n68" transform="translate(439,312)"><rect class="nb" width="26" height="15"/><text class="t"><tspan x="1.6" y="3">pipeline_merge</tspan></text><text class="t b" x="13" y="5">Task: 1</text><text class="l"><tspan x="13" y="8.6">queued 0.0s · run 0.0s</tspan><tspan x="13" y="10.6">retry 0 · ok</tspan></text></g>
<g id="n69" transform="translate(217,348)"><rect class="nb" width="26" height="15"/><text class="t"><tspan x="1.6" y="3">pipeline_init</tspan></text><text class="t b" x="13" y="5">Task: 1</text><text class="l"><tspan x="13" y="8.6">queued 0.0s · run 0.0s</tspan><tspan x="13" y="10.6">retry 0 · ok</tspan></text></g>
<g id="n70" transform="translate(269,348)"><rect class="nb" width="26" height="15"/><text class="t"><tspan x="1.6" y="3">pipeline_stage_merge_task</tspan></text><text class="t b" x="13" y="5">Task: 1</text><text class="l"><tspan x="13" y="8.6">queued 0.0s · run 0.0s</tspan><tspan x="13" y="10.6">retry 0 · ok</tspan></text></g>
<g id="n71" transform="translate(217,383)"><rect class="nb" width="26" height="17"/><text class="t"><tspan x="1.6" y="3.2">task_runner_job_stage_</tspan><tspan x="1.6" y="5.1">_process_out</tspan></text><text class="t b" x="13" y="7.6">Task: 1</text><text class="l"><tspan x="13" y="11">queued 0.0s · run 0.0s</tspan><tspan x="13" y="13">retry 0 · ok</tspan></text></g>
<g id="n72" transform="translate(249,383)"><rect class="nb" width="26" height="17"/><text class="t"><tspan x="1.6" y="3.2">pipeline_stage_collect_task_</tspan><tspan x="1.6" y="5.1">_all</tspan></text><text class="t b" x="13" y="7.6">Task: 1</text><text class="l"><tspan x="13" y="11">queued 0.0s · run 0.0s</tspan><tspan x="13" y="13">retry 0 · ok</tspan></text></g>
<g id="n73" transform="translate(249,421)"><rect class="nb" width="26" height="16"/><text class="t"><tspan x="1.6" y="3.2">task_runner_job_stage_</tspan><tspan x="1.6" y="5.1">_process_out</tspan></text><text class="t b" x="13" y="7.4">Task: 1</text><text class="l"><tspan x="13" y="10.6">queued 0.0s · run 0.0s</tspan><tspan x="13" y="12.6">retry 0 · ok</tspan></text></g>
</svg>
